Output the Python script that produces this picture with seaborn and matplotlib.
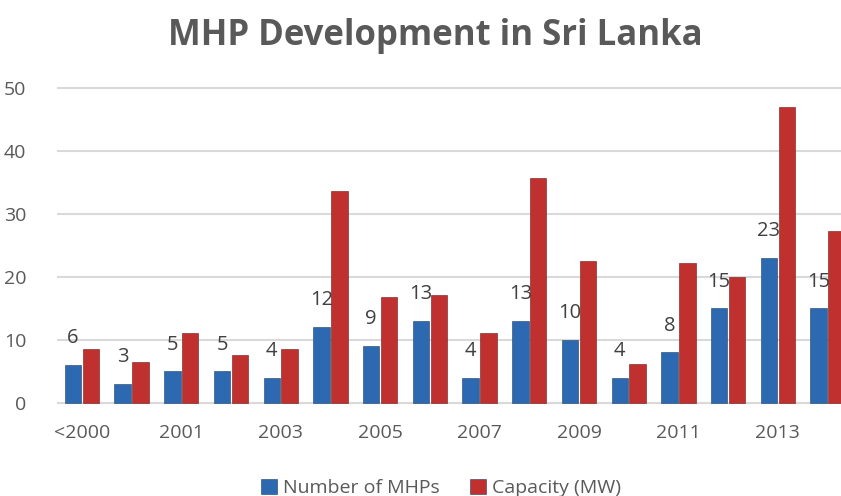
import pandas as pd
import matplotlib.pyplot as plt
import seaborn as sns

# data
years = ['<2000', '2000', '2001', '2002', '2003', '2004', '2005', '2006',
         '2007', '2008', '2009', '2010', '2011', '2012', '2013', '2014']
num_mhps = [6, 3, 5, 5, 4, 12, 9, 13, 4, 13, 10, 4, 8, 15, 23, 15]
capacity_mw = [8.6, 6.4, 11.0, 7.5, 8.5, 33.6, 16.7, 17.1, 11.0, 35.7, 22.5, 6.1, 22.2, 19.9, 46.9, 27.2]
series_names = ['Number of MHPs', 'Capacity (MW)']

df = pd.DataFrame({
    'Year': years * 2,
    'Value': num_mhps + capacity_mw,
    'Series': [series_names[0]] * len(years) + [series_names[1]] * len(years),
})

sns.set_theme(style='white')
plt.rcParams['font.family'] = ['Open Sans', 'DejaVu Sans']

fig = plt.figure(figsize=(8.41, 4.96), dpi=100)
ax = fig.add_axes([57 / 841, (496 - 404.6) / 496, 1 - 57 / 841, (404.6 - 85.8) / 496])

palette = {series_names[0]: '#2C69B0', series_names[1]: '#C0302E'}
sns.barplot(data=df, x='Year', y='Value', hue='Series', palette=palette,
            saturation=1, width=0.72, gap=0.08, ax=ax,
            edgecolor='#1E3F66', linewidth=0.4, legend=True)
for bar in ax.containers[1]:
    bar.set_edgecolor('#6E1A18')

# data labels on the blue bars only
ax.bar_label(ax.containers[0], labels=[str(v) for v in num_mhps],
             padding=12, fontsize=14.5, color='#404040')

ax.set_ylim(-0.3, 50.3)
ax.set_xlim(-0.5, 15.27)
ax.set_yticks(range(0, 51, 10))
ax.yaxis.grid(True, color='#D9D9D9', linewidth=1.5)
ax.set_axisbelow(True)
for s in ax.spines.values():
    s.set_visible(False)

ax.set_xlabel('')
ax.set_ylabel('')
ax.set_xticks(range(len(years)))
ax.set_xticklabels([y if i % 2 == 0 else '' for i, y in enumerate(years)])
ax.tick_params(axis='both', length=0, labelsize=14, colors='#595959')
ax.tick_params(axis='y', pad=22)
ax.tick_params(axis='x', pad=14)

leg = ax.legend(loc='center', bbox_to_anchor=(441 / 841, 8 / 496),
                bbox_transform=fig.transFigure, ncol=2, frameon=False,
                fontsize=14, handlelength=0.8, handleheight=0.8,
                handletextpad=0.3, columnspacing=1.6)
for t in leg.get_texts():
    t.set_color('#595959')

fig.text(435 / 841, 1 - 36 / 496, 'MHP Development in Sri Lanka',
         ha='center', va='center', fontsize=25, fontweight='bold', color='#595959')

plt.savefig('out.png', dpi=100)
